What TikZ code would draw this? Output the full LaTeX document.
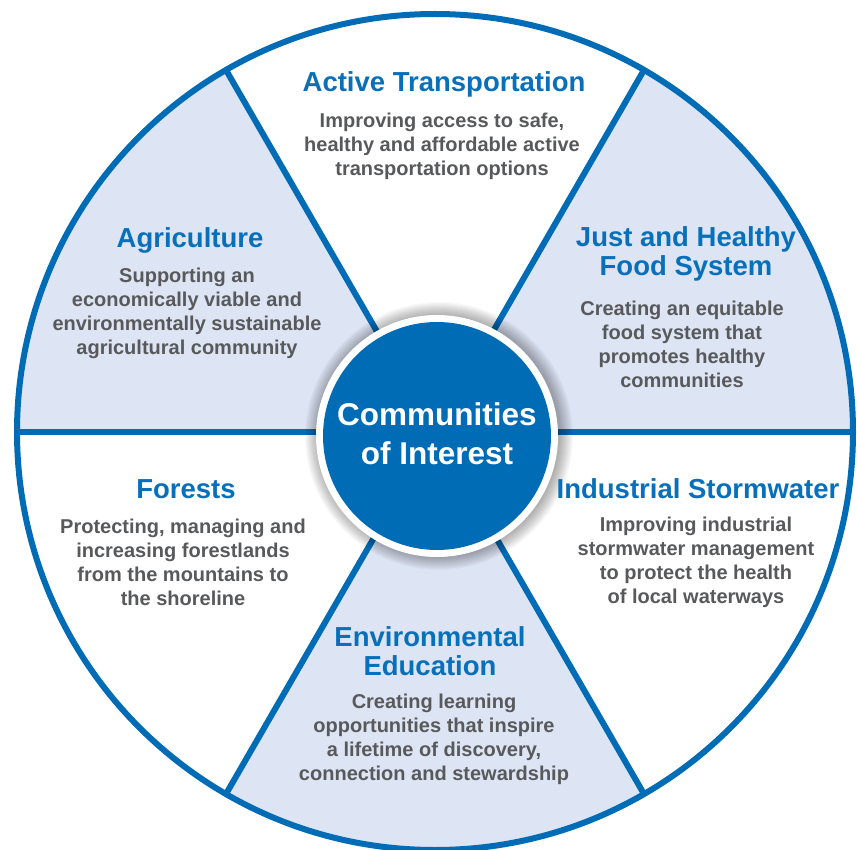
\documentclass[tikz,border=0pt]{standalone}
\usepackage{fontspec}
\setmainfont{Liberation Sans}
\definecolor{cblue}{RGB}{0,108,182}
\definecolor{ctitle}{RGB}{8,112,186}
\definecolor{clight}{RGB}{221,228,244}
\definecolor{cgray}{RGB}{88,89,91}
\tikzset{
  secfill/.style={fill=clight},
  divline/.style={draw=cblue,line width=6pt},
  ttl/.style={text=ctitle,font=\bfseries\fontsize{27.5}{29}\selectfont,align=center,inner sep=0pt},
  body/.style={text=cgray,font=\bfseries\fontsize{20}{24}\selectfont,align=center,inner sep=0pt},
  ctr/.style={text=white,font=\bfseries\fontsize{31.5}{39}\selectfont,align=center,inner sep=0pt}
}
\begin{document}
\begin{tikzpicture}[x=1pt,y=-1pt]
\useasboundingbox (0,0) rectangle (857,850);
\fill[white] (0,0) rectangle (857,850);
\begin{scope}[shift={(435,432)}]
  % shaded sectors (visual upper-right, upper-left, bottom)
  \fill[secfill] (0,0) -- (-60:418) arc[start angle=-60,end angle=0,radius=418] -- cycle;
  \fill[secfill] (0,0) -- (180:418) arc[start angle=180,end angle=240,radius=418] -- cycle;
  \fill[secfill] (0,0) -- (60:418) arc[start angle=60,end angle=120,radius=418] -- cycle;
  % dividing lines
  \draw[divline] (0:418) -- (180:418);
  \draw[divline] (60:418) -- (240:418);
  \draw[divline] (120:418) -- (300:418);
  \draw[divline] (0,0) circle[radius=418];
  % soft shadow around centre
  \foreach \k in {1,...,14}{
    \fill[black,opacity=0.022] (4,4) circle[radius=120+\k];
  }
  \fill[white] (2,4) circle[radius=121];
  \fill[cblue] (2,4) circle[radius=114];
\end{scope}
% centre text
\node[ctr] (ctr) at (437,434) {Communities\\of Interest};
% Active Transportation
\node[ttl] (t-at) at (444,84) {Active Transportation};
\node[body] (b-at) at (442,146) {Improving access to safe,\\healthy and affordable active\\transportation options};
% Agriculture
\node[ttl] (t-ag) at (190,240) {Agriculture};
\node[body] (b-ag) at (187,313) {Supporting an\\economically viable and\\environmentally sustainable\\agricultural community};
% Just and Healthy Food System
\node[ttl] (t-fs) at (686,254) {Just and Healthy\\Food System};
\node[body] (b-fs) at (682,344) {Creating an equitable\\food system that\\promotes healthy\\communities};
% Forests
\node[ttl] (t-fo) at (186,489) {Forests};
\node[body] (b-fo) at (183,562) {Protecting, managing and\\increasing forestlands\\from the mountains to\\the shoreline};
% Industrial Stormwater
\node[ttl] (t-is) at (698,489) {Industrial Stormwater};
\node[body] (b-is) at (696,562) {Improving industrial\\stormwater management\\to protect the health\\of local waterways};
% Environmental Education
\node[ttl] (t-ee) at (430,651) {Environmental\\Education};
\node[body] (b-ee) at (434,739) {Creating learning\\opportunities that inspire\\a lifetime of discovery,\\connection and stewardship};
\end{tikzpicture}
\end{document}
